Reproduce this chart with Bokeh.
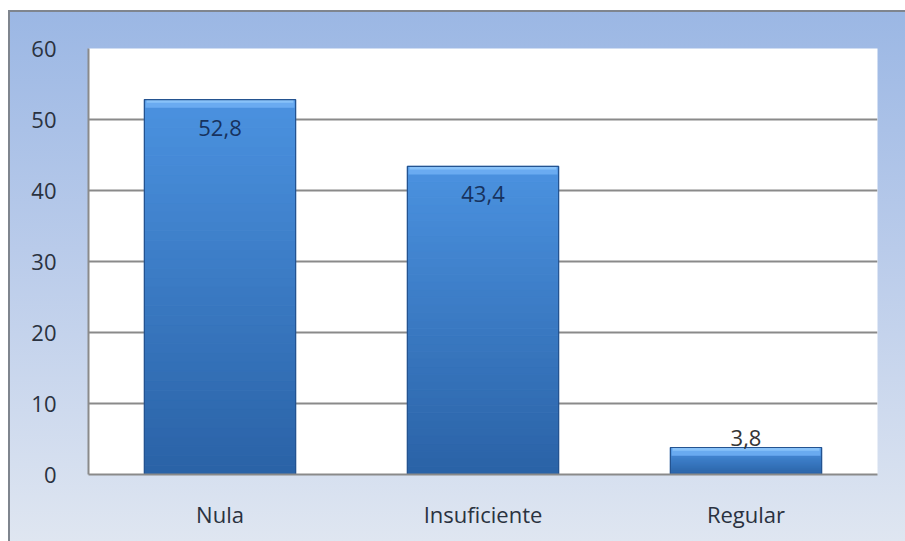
from bokeh.plotting import figure
from bokeh.models import ColumnDataSource, FactorRange, Range1d, FixedTicker, LabelSet
from bokeh.core.properties import value
from bokeh.embed import file_html
from bokeh.resources import INLINE

# Chart data
categories = ["Nula", "Insuficiente", "Regular"]
values = [52.8, 43.4, 3.8]
value_labels = ["52,8", "43,4", "3,8"]
y_ticks = [0, 10, 20, 30, 40, 50, 60]

FONT = "Open Sans"
BAR_W = 0.575


def lerp_color(c1, c2, t):
    a = [int(c1[i:i + 2], 16) for i in (1, 3, 5)]
    b = [int(c2[i:i + 2], 16) for i in (1, 3, 5)]
    return "#" + "".join(f"{round(x + (y - x) * t):02x}" for x, y in zip(a, b))


p = figure(
    x_range=FactorRange(*categories, range_padding=0),
    y_range=Range1d(0, 60),
    width=897, height=531,
    output_backend="svg", toolbar_location=None,
    min_border_left=80, min_border_right=28, min_border_top=38, min_border_bottom=67,
)
p.margin = (10, 0, 0, 8)
p.styles = {
    "background": "linear-gradient(to bottom, #9bb7e4 0%, #b9cbea 45%, #dfe6f1 100%)",
    "box-shadow": "inset 2px 2px 0 #7f858e",
}
p.border_fill_alpha = 0
p.background_fill_color = "#ffffff"
p.outline_line_color = None

# Vertical shading of each bar: stacked slices from the bar's base to its value
N = 40
top_col, bot_col = "#4b92e0", "#2a62a6"
for i in range(N):
    t0, t1 = i / N, (i + 1) / N
    src = ColumnDataSource(dict(
        x=categories,
        bottom=[v * t0 for v in values],
        top=[v * t1 for v in values],
    ))
    c = lerp_color(bot_col, top_col, (t0 + t1) / 2)
    p.vbar(x="x", bottom="bottom", top="top", width=BAR_W, source=src,
           fill_color=c, line_color=c, line_width=1)

# Bevelled highlight along the top of each bar
bevel = ColumnDataSource(dict(
    x=categories,
    bottom=[max(v - 1.15, 0) for v in values],
    top=values,
))
p.vbar(x="x", bottom="bottom", top="top", width=BAR_W * 0.985, source=bevel,
       fill_color="#6eaef3", line_color=None, fill_alpha=0.9)
bevel_hi = ColumnDataSource(dict(
    x=categories,
    bottom=[max(v - 0.45, 0) for v in values],
    top=values,
))
p.vbar(x="x", bottom="bottom", top="top", width=BAR_W * 0.97, source=bevel_hi,
       fill_color="#8cc4fa", line_color=None, fill_alpha=0.9)

# Bar outline
p.vbar(x=categories, top=values, width=BAR_W, fill_color=None,
       line_color="#245390", line_width=1.2)

# Axes and grid
p.yaxis.ticker = FixedTicker(ticks=y_ticks)
p.ygrid.ticker = FixedTicker(ticks=y_ticks)
p.ygrid.grid_line_color = "#8a8a8a"
p.ygrid.grid_line_width = 2
p.xgrid.grid_line_color = None

for ax in (p.xaxis, p.yaxis):
    ax.axis_line_color = "#8a8a8a"
    ax.axis_line_width = 2
    ax.major_tick_line_color = None
    ax.minor_tick_line_color = None
    ax.major_label_text_font = FONT
    ax.major_label_text_font_size = "22px"
    ax.major_label_text_color = "#2a3240"
p.yaxis.major_label_standoff = 26
p.xaxis.major_label_standoff = 18

# Value labels: inside the top of tall bars, above short ones
inside = [i for i, v in enumerate(values) if v >= 10]
outside = [i for i, v in enumerate(values) if v < 10]
p.add_layout(LabelSet(
    x="x", y="y", text="t", source=ColumnDataSource(dict(
        x=[categories[i] for i in inside],
        y=[values[i] for i in inside],
        t=[value_labels[i] for i in inside])),
    text_align="center", text_baseline="middle", y_offset=-28,
    text_font=value(FONT), text_font_size=value("22px"), text_color=value("#17325e")))
p.add_layout(LabelSet(
    x="x", y="y", text="t", source=ColumnDataSource(dict(
        x=[categories[i] for i in outside],
        y=[values[i] for i in outside],
        t=[value_labels[i] for i in outside])),
    text_align="center", text_baseline="bottom", y_offset=2,
    text_font=value(FONT), text_font_size=value("22px"), text_color=value("#353535")))

open("out.html", "w").write(file_html(p, INLINE))
